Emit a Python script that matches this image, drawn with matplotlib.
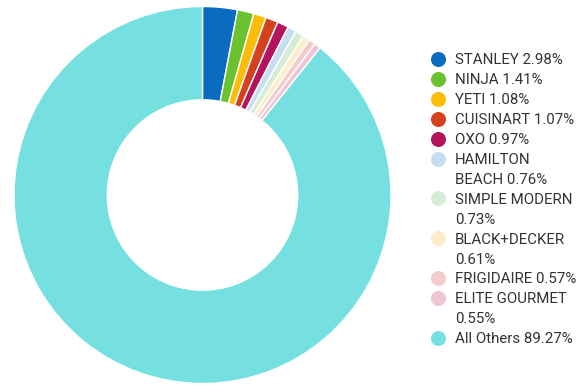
import matplotlib
matplotlib.use("Agg")
import matplotlib.pyplot as plt
from matplotlib.lines import Line2D

plt.rcParams['font.family'] = ['Roboto', 'DejaVu Sans']

brands = ["STANLEY", "NINJA", "YETI", "CUISINART", "OXO", "HAMILTON\nBEACH",
          "SIMPLE MODERN\n", "BLACK+DECKER\n", "FRIGIDAIRE", "ELITE GOURMET\n", "All Others"]
shares = [2.98, 1.41, 1.08, 1.07, 0.97, 0.76, 0.73, 0.61, 0.57, 0.55, 89.27]
colors = ["#0a6cbf", "#6cc12e", "#fbbd08", "#d4411e", "#b3145c", "#c7ddf0",
          "#d7ecd5", "#fcedcb", "#f4caca", "#edc5d5", "#76e0e1"]

labels = []
for b, s in zip(brands, shares):
    sep = "" if b.endswith("\n") else " "
    labels.append(f"{b}{sep}{s:.2f}%")

W, H = 576, 386
fig = plt.figure(figsize=(W / 100, H / 100), dpi=100)
ax = fig.add_axes([14 / W, 2.5 / H, 377 / W, 377 / H])
ax.pie(shares, colors=colors, startangle=90, counterclock=False, radius=1,
       wedgeprops=dict(width=0.495, edgecolor="white", linewidth=1.0))
ax.set_xlim(-1, 1)
ax.set_ylim(-1, 1)
ax.set_aspect("equal")
ax.axis("off")

# legend (markers aligned with first line of each label)
marker_x, text_x, y0, pitch = 438, 455, 59, 19.9
line = 0
for lab, c in zip(labels, colors):
    y = y0 + line * pitch
    fig.add_artist(Line2D([marker_x / W], [1 - y / H], transform=fig.transFigure,
                          linestyle="none", marker="o", markersize=9.8,
                          markerfacecolor=c, markeredgecolor=c))
    for k, part in enumerate(lab.split("\n")):
        fig.text(text_x / W, 1 - (y + k * pitch) / H, part, fontsize=10.8,
                 color="#333333", ha="left", va="center_baseline")
    line += len(lab.split("\n"))

fig.savefig("out.png", dpi=100)
